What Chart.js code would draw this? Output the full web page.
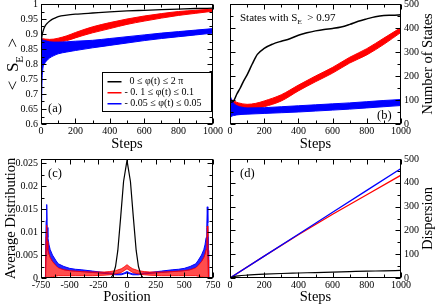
<!DOCTYPE html>
<html>
<head>
<meta charset="utf-8">
<script src="https://cdn.jsdelivr.net/npm/chart.js@4.4.1/dist/chart.umd.min.js"></script>
<style>
  html, body { margin: 0; padding: 0; background: #fff; }
  #wrap { position: relative; width: 436px; height: 306px; overflow: hidden; }
  #wrap canvas { position: absolute; left: 0; top: 0; }
</style>
</head>
<body>
<div id="wrap">
  <canvas id="chartA" width="436" height="306"></canvas>
  <canvas id="chartB" width="436" height="306"></canvas>
  <canvas id="chartC" width="436" height="306"></canvas>
  <canvas id="chartD" width="436" height="306"></canvas>
</div>
<script>
// (a) average entanglement vs steps
const stepsA_black = [0, 3, 8, 15, 25, 40, 60, 80, 100, 150, 200, 250, 300, 400, 500, 600, 700, 800, 900, 1000];
const seA_black = [0.84, 0.88, 0.9, 0.915, 0.928, 0.938, 0.947, 0.953, 0.958, 0.963, 0.966, 0.968, 0.970, 0.974, 0.977, 0.979, 0.981, 0.983, 0.985, 0.986];
const stepsA_red = [0, 10, 25, 50, 75, 100, 150, 200, 250, 300, 400, 500, 600, 700, 800, 900, 1000];
const seA_redHi = [0.884, 0.884, 0.883, 0.882, 0.883, 0.886, 0.894, 0.905, 0.915, 0.924, 0.938, 0.950, 0.960, 0.968, 0.975, 0.979, 0.983];
const seA_redLo = [0.871, 0.872, 0.871, 0.870, 0.870, 0.872, 0.878, 0.887, 0.896, 0.904, 0.918, 0.932, 0.943, 0.953, 0.962, 0.969, 0.976];
const stepsA_blue = [0, 3, 6, 10, 20, 35, 50, 75, 100, 150, 200, 300, 400, 500, 600, 700, 800, 900, 1000];
const seA_blueHi = [0.88, 0.885, 0.882, 0.88, 0.878, 0.876, 0.874, 0.873, 0.873, 0.874, 0.876, 0.879, 0.885, 0.891, 0.897, 0.903, 0.908, 0.913, 0.918];
const seA_blueLo = [0.60, 0.66, 0.74, 0.78, 0.80, 0.812, 0.82, 0.828, 0.834, 0.84, 0.845, 0.854, 0.862, 0.87, 0.878, 0.885, 0.891, 0.897, 0.903];

// (b) number of states with S_E > 0.97
const stepsB_black = [0, 20, 40, 60, 80, 100, 130, 160, 200, 250, 300, 350, 400, 450, 500, 550, 600, 650, 700, 750, 800, 850, 900, 950, 1000];
const nB_black = [90, 95, 125, 150, 180, 205, 250, 290, 315, 333, 345, 355, 370, 380, 388, 394, 398, 404, 415, 428, 438, 447, 452, 453, 455];
const stepsB_red = [0, 25, 50, 100, 150, 200, 300, 400, 500, 600, 700, 800, 900, 1000];
const nB_redHi = [105, 95, 88, 82, 86, 96, 122, 162, 200, 236, 278, 314, 358, 402];
const nB_redLo = [85, 76, 69, 62, 64, 72, 96, 138, 176, 212, 254, 288, 332, 382];
const stepsB_blue = [0, 5, 10, 20, 40, 70, 100, 200, 300, 400, 500, 600, 700, 800, 900, 1000];
const nB_blueHi = [115, 110, 100, 88, 76, 70, 67, 68, 72, 76, 80, 84, 88, 93, 98, 102];
const nB_blueLo = [25, 28, 32, 35, 38, 40, 41, 44, 47, 50, 54, 58, 62, 67, 72, 77];

// (c) average distribution vs position
const posC_black = [-750, -140, -120, -100, -80, -55, -30, 0, 30, 55, 80, 100, 120, 140, 750];
const distC_black = [0, 0, 0.0008, 0.0025, 0.006, 0.0133, 0.021, 0.0256, 0.021, 0.0133, 0.006, 0.0025, 0.0008, 0, 0];
const posC = [-750, -712, -710, -705, -700, -696, -690, -680, -670, -650, -620, -600, -550, -500, -450, -400, -300, -200, -150, -100, -50, -25, 0,
              25, 50, 100, 150, 200, 300, 400, 450, 500, 550, 600, 620, 650, 670, 680, 690, 696, 700, 705, 710, 712, 750];
const distC_blueHi = [0, 0, 0.006, 0.0125, 0.016, 0.011, 0.0088, 0.0072, 0.0062, 0.005, 0.0038, 0.0031, 0.0025, 0.0021, 0.0019, 0.0018, 0.0015, 0.0012, 0.0011, 0.0009, 0.0009, 0.0011, 0.0014,
                      0.0011, 0.0009, 0.0009, 0.0011, 0.0012, 0.0015, 0.0018, 0.0019, 0.0021, 0.0025, 0.0031, 0.0038, 0.005, 0.0062, 0.0072, 0.0088, 0.011, 0.0155, 0.012, 0.006, 0, 0];
const distC_blueLo = [0, 0, 0, 0.005, 0.009, 0.0075, 0.0062, 0.0052, 0.0045, 0.0036, 0.0028, 0.0023, 0.0018, 0.0016, 0.0015, 0.0014, 0.0012, 0.001, 0.0009, 0.0007, 0.0007, 0.0009, 0.0011,
                      0.0009, 0.0007, 0.0007, 0.0009, 0.001, 0.0012, 0.0014, 0.0015, 0.0016, 0.0018, 0.0023, 0.0028, 0.0036, 0.0045, 0.0052, 0.0062, 0.0075, 0.009, 0.005, 0, 0, 0];
const distC_redHi = [0, 0, 0.004, 0.009, 0.0115, 0.008, 0.0062, 0.0052, 0.0045, 0.0036, 0.0027, 0.0022, 0.0018, 0.0016, 0.0015, 0.0014, 0.0013, 0.0013, 0.0014, 0.0016, 0.002, 0.0024, 0.0029,
                     0.0024, 0.002, 0.0016, 0.0014, 0.0013, 0.0013, 0.0014, 0.0015, 0.0016, 0.0018, 0.0022, 0.0027, 0.0036, 0.0045, 0.0052, 0.0062, 0.008, 0.0113, 0.009, 0.004, 0, 0];
const distC_redLo = [0, 0, 0, 0, 0, 0, 0, 0, 0.0001, 0.0003, 0.0004, 0.0005, 0.0005, 0.0005, 0.0005, 0.0005, 0.0005, 0.0006, 0.0007, 0.0009, 0.0012, 0.0016, 0.002,
                     0.0016, 0.0012, 0.0009, 0.0007, 0.0006, 0.0005, 0.0005, 0.0005, 0.0005, 0.0005, 0.0005, 0.0004, 0.0003, 0.0001, 0, 0, 0, 0, 0, 0, 0, 0];

// (d) dispersion vs steps
const stepsD = [0, 200, 400, 600, 800, 1000];
const dispD_blue = [0, 92, 184, 276, 368, 460];
const dispD_red = [0, 92, 182, 268, 350, 432];
const stepsD_black = [0, 25, 50, 100, 200, 300, 400, 500, 600, 700, 800, 900, 1000];
const dispD_black = [0, 6, 9, 12, 16, 19, 21, 23, 25, 27, 29, 30, 32];

// tick values
const stepTicks = [0, 200, 400, 600, 800, 1000];
const seTicks = [0.6, 0.65, 0.7, 0.75, 0.8, 0.85, 0.9, 0.95, 1];
const stateTicks = [0, 100, 200, 300, 400, 500];
const posTicks = [-750, -500, -250, 0, 250, 500, 750];
const distTicks = [0, 0.005, 0.01, 0.015, 0.02, 0.025];

const legendLabels = ['  0 ≤ φ(t) ≤ 2 π', '- 0. 1 ≤ φ(t) ≤ 0.1', '- 0.05 ≤ φ(t) ≤ 0.05'];

const FONT = "'Liberation Serif', 'Times New Roman', serif";
Chart.defaults.font.family = FONT;
Chart.defaults.color = '#000';

const BLACK = '#000000', RED = '#ff0000', BLUE = '#0000ff';

const pts = (xs, ys) => xs.map((x, i) => ({ x, y: ys[i] }));

function line(xs, ys, color, width, extra) {
    return Object.assign({
        data: pts(xs, ys),
        borderColor: color,
        backgroundColor: color,
        borderWidth: width,
        pointRadius: 0,
        fill: false
    }, extra);
}

function band(xs, hi, lo, color, fillColor, label, order, extra) {
    return [
        line(xs, hi, color, 1, Object.assign({ label, fill: '+1', backgroundColor: fillColor, order }, extra)),
        line(xs, lo, color, 1, Object.assign({ label: '', order }, extra))
    ];
}

function xScale(min, max, tickVals, title, fitH) {
    return {
        type: 'linear', min, max,
        grid: { display: false, drawTicks: false },
        border: { display: false },
        afterBuildTicks: s => { s.ticks = tickVals.map(v => ({ value: v })); },
        ticks: { autoSkip: false, maxRotation: 0, padding: 1, font: { size: 10 }, color: '#000', callback: v => String(v) },
        title: { display: true, text: title, font: { size: 14.5 }, color: '#000', padding: { top: 0, bottom: 0 } },
        afterFit(s) { s.height = fitH; s.paddingLeft = 0; s.paddingRight = 0; }
    };
}

function yScale(min, max, tickVals, pos, fitW) {
    return {
        type: 'linear', position: pos, min, max,
        grid: { display: false, drawTicks: false },
        border: { display: false },
        afterBuildTicks: s => { s.ticks = tickVals.map(v => ({ value: v })); },
        ticks: { autoSkip: false, padding: 3, font: { size: 10 }, color: '#000', callback: v => String(v) },
        afterFit(s) { s.width = fitW; s.paddingTop = 0; s.paddingBottom = 0; }
    };
}

// text with optional subscript parts
function richWidth(ctx, parts, size) {
    let w = 0;
    parts.forEach(p => {
        ctx.font = `${p.sub ? size * 0.65 : size}px ${FONT}`;
        w += ctx.measureText(p.t).width;
    });
    return w;
}
function drawRich(ctx, parts, x, y, size) {
    let cx = x;
    parts.forEach(p => {
        const s = p.sub ? size * 0.65 : size;
        ctx.font = `${s}px ${FONT}`;
        ctx.fillText(p.t, cx, p.sub ? y + size * 0.28 : y);
        cx += ctx.measureText(p.t).width;
    });
}

const decor = {
    id: 'decor',
    afterDraw(chart, args, o) {
        const { ctx, chartArea: a } = chart;
        const x = chart.scales.x, y = chart.scales.y;
        ctx.save();
        ctx.strokeStyle = '#000';
        ctx.lineWidth = 1;
        const L = Math.round(a.left) + 0.5, R = Math.round(a.right) - 0.5;
        const T = Math.round(a.top) + 0.5, B = Math.round(a.bottom) - 0.5;
        ctx.strokeRect(L, T, R - L, B - T);

        // inward major and minor ticks on all four sides
        const tickSet = s => {
            const v = s.ticks.map(t => t.value);
            return v.map(k => [k, 5]).concat(v.slice(1).map((k, i) => [(k + v[i]) / 2, 3]));
        };
        ctx.beginPath();
        tickSet(x).forEach(([v, len]) => {
            const p = Math.round(x.getPixelForValue(v)) + 0.5;
            ctx.moveTo(p, B); ctx.lineTo(p, B - len);
            ctx.moveTo(p, T); ctx.lineTo(p, T + len);
        });
        tickSet(y).forEach(([v, len]) => {
            const p = Math.round(y.getPixelForValue(v)) + 0.5;
            ctx.moveTo(L, p); ctx.lineTo(L + len, p);
            ctx.moveTo(R, p); ctx.lineTo(R - len, p);
        });
        ctx.stroke();

        ctx.fillStyle = '#000';
        ctx.textBaseline = 'alphabetic';
        ctx.textAlign = 'left';

        // panel tag
        if (o.tag) {
            ctx.font = `12.5px ${FONT}`;
            ctx.fillText(o.tag.text, o.tag.fromRight ? a.right - o.tag.dx : a.left + o.tag.dx,
                o.tag.fromBottom ? a.bottom - o.tag.dy : a.top + o.tag.dy);
        }

        // note inside plot
        if (o.note) {
            drawRich(ctx, o.note.parts, a.left + o.note.dx, a.top + o.note.dy, o.note.size);
        }

        // rotated y title
        if (o.yTitle) {
            const t = o.yTitle;
            const w = richWidth(ctx, t.parts, t.size);
            const cx = t.side === 'left' ? a.left - t.dx : a.right + t.dx;
            ctx.save();
            ctx.translate(cx, (a.top + a.bottom) / 2);
            ctx.rotate(-Math.PI / 2);
            drawRich(ctx, t.parts, -w / 2, t.size * 0.34, t.size);
            ctx.restore();
        }

        // boxed legend, one row per labelled dataset
        if (o.legend) {
            const lg = o.legend;
            const bx = Math.round(a.left + lg.dx) + 0.5, by = Math.round(a.top + lg.dy) + 0.5;
            ctx.fillStyle = '#fff';
            ctx.fillRect(bx, by, lg.w, lg.h);
            ctx.strokeStyle = '#000';
            ctx.lineWidth = 1;
            ctx.strokeRect(bx, by, lg.w, lg.h);
            ctx.font = `10px ${FONT}`;
            ctx.textBaseline = 'middle';
            const items = chart.data.datasets.filter(d => d.label);
            items.forEach((d, i) => {
                const yy = by + 9 + i * 11;
                ctx.fillStyle = d.borderColor;
                ctx.fillRect(bx + 5, yy - 0.5, 14, 1.5);
                ctx.fillStyle = '#000';
                ctx.fillText(d.label, bx + 22, yy);
            });
        }
        ctx.restore();
    }
};

function makeChart(id, datasets, pad, xs, ys, decorOpts) {
    return new Chart(document.getElementById(id), {
        type: 'line',
        data: { datasets },
        options: {
            responsive: false,
            animation: false,
            events: [],
            layout: { padding: pad },
            elements: { line: { tension: 0 } },
            plugins: { legend: { display: false }, tooltip: { enabled: false }, decor: decorOpts },
            scales: { x: xs, y: ys }
        },
        plugins: [decor]
    });
}

const smooth = { cubicInterpolationMode: 'monotone' };

// (a)
makeChart('chartA',
    [
        line(stepsA_black, seA_black, BLACK, 1.3, Object.assign({ label: legendLabels[0], order: 0 }, smooth)),
        ...band(stepsA_red, seA_redHi, seA_redLo, RED, RED, legendLabels[1], 2, smooth),
        ...band(stepsA_blue, seA_blueHi, seA_blueLo, BLUE, BLUE, legendLabels[2], 1, smooth)
    ],
    { left: 0, top: 4, right: 223, bottom: 153 },
    xScale(0, 1000, stepTicks, 'Steps', 29),
    yScale(0.6, 1, seTicks, 'left', 41),
    {
        tag: { text: '(a)', dx: 7, dy: 12, fromBottom: true },
        yTitle: { side: 'left', dx: 29, size: 17, parts: [{ t: '<  S' }, { t: 'E', sub: true }, { t: '  >' }] },
        legend: { dx: 61, dy: 68, w: 109, h: 39 }
    });

// (b)
makeChart('chartB',
    [
        line(stepsB_black, nB_black, BLACK, 1.5, Object.assign({ order: 0 }, smooth)),
        ...band(stepsB_red, nB_redHi, nB_redLo, RED, RED, '', 2, smooth),
        ...band(stepsB_blue, nB_blueHi, nB_blueLo, BLUE, BLUE, '', 1, smooth)
    ],
    { left: 230, top: 4, right: 0, bottom: 153 },
    xScale(0, 1000, stepTicks, 'Steps', 29),
    yScale(0, 500, stateTicks, 'right', 35),
    {
        tag: { text: '(b)', dx: 24, dy: 5, fromRight: true, fromBottom: true },
        note: { dx: 10, dy: 17, size: 11, parts: [{ t: 'States with S' }, { t: 'E', sub: true }, { t: '  > 0.97' }] },
        yTitle: { side: 'right', dx: 26, size: 14.5, parts: [{ t: 'Number of States' }] }
    });

// (c)
makeChart('chartC',
    [
        line(posC_black, distC_black, BLACK, 1.2, { order: 0 }),
        ...band(posC, distC_redHi, distC_redLo, 'rgba(255,0,0,0.85)', 'rgba(255,0,0,0.7)', '', 1),
        ...band(posC, distC_blueHi, distC_blueLo, BLUE, 'rgba(0,0,255,0.85)', '', 2)
    ],
    { left: 0, top: 159, right: 223, bottom: 0 },
    xScale(-750, 750, posTicks, 'Position', 28),
    yScale(0, 0.0259, distTicks, 'left', 41),
    {
        tag: { text: '(c)', dx: 7, dy: 18 },
        yTitle: { side: 'left', dx: 31, size: 14.5, parts: [{ t: 'Average Distribution' }] }
    });

// (d)
makeChart('chartD',
    [
        line(stepsD_black, dispD_black, BLACK, 1.2, Object.assign({ order: 0 }, smooth)),
        line(stepsD, dispD_blue, BLUE, 1.3, { order: 1 }),
        line(stepsD, dispD_red, RED, 1.3, { order: 2 })
    ],
    { left: 230, top: 159, right: 0, bottom: 0 },
    xScale(0, 1000, stepTicks, 'Steps', 28),
    yScale(0, 500, stateTicks, 'right', 35),
    {
        tag: { text: '(d)', dx: 10, dy: 18 },
        yTitle: { side: 'right', dx: 26, size: 14.5, parts: [{ t: 'Dispersion' }] }
    });
</script>
</body>
</html>
